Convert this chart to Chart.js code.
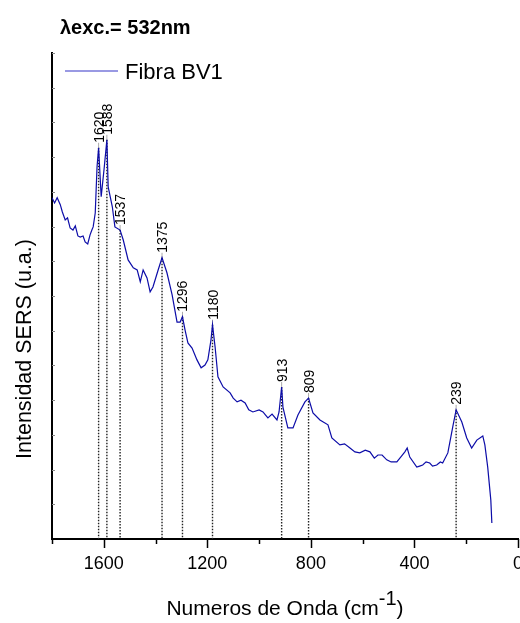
<!DOCTYPE html>
<html>
<head>
<meta charset="utf-8">
<script src="https://cdn.jsdelivr.net/npm/chart.js@4.4.1/dist/chart.umd.min.js"></script>
<style>
  html, body { margin: 0; padding: 0; background: #fff; }
</style>
</head>
<body>
<canvas id="spectrum" width="520" height="623"></canvas>
<script>
// spectrum (Raman shift in cm-1, intensity in arbitrary units)
const wavenumbers = [
  1800, 1790, 1780, 1768, 1760, 1749, 1740, 1730, 1719, 1710,
  1700, 1691, 1680, 1672, 1662, 1653, 1646, 1641, 1633, 1626,
  1620, 1610, 1598, 1588, 1583, 1567, 1557, 1537, 1525, 1506,
  1486, 1471, 1459, 1448, 1433, 1421, 1410, 1390, 1375, 1356,
  1336, 1317, 1305, 1296, 1286, 1275, 1259, 1240, 1224, 1209,
  1198, 1186, 1180, 1170, 1159, 1139, 1112, 1100, 1085, 1070,
  1054, 1040, 1024, 1000, 985, 975, 966, 950, 931, 923,
  913, 908, 889, 869, 850, 823, 809, 792, 765, 734,
  719, 688, 670, 649, 630, 611, 590, 572, 555, 541,
  525, 507, 490, 468, 450, 437, 428, 418, 391, 380,
  368, 355, 341, 330, 314, 300, 291, 271, 252, 239,
  217, 198, 179, 159, 136, 128, 117, 105, 101
];
const intensity = [
  9.83, 9.68, 9.83, 9.63, 9.42, 9.19, 9.25, 8.96, 8.90, 9.02,
  8.73, 8.70, 8.73, 8.56, 8.50, 8.76, 8.90, 8.99, 9.39, 10.72,
  11.27, 9.86, 10.72, 11.50, 10.14, 9.57, 8.99, 8.90, 8.62, 8.04,
  7.81, 7.75, 7.41, 7.75, 7.52, 7.12, 7.26, 7.75, 8.10, 7.67,
  7.03, 6.25, 6.25, 6.40, 6.02, 5.65, 5.50, 5.16, 4.93, 5.01,
  5.16, 5.73, 6.17, 5.53, 4.67, 4.38, 4.21, 4.06, 3.95, 4.00,
  3.92, 3.72, 3.66, 3.72, 3.66, 3.57, 3.49, 3.60, 3.43, 3.66,
  4.38, 3.80, 3.20, 3.20, 3.57, 3.95, 4.06, 3.63, 3.43, 3.29,
  2.91, 2.71, 2.74, 2.62, 2.51, 2.48, 2.56, 2.51, 2.33, 2.42,
  2.42, 2.28, 2.22, 2.22, 2.39, 2.51, 2.62, 2.36, 2.07, 2.10,
  2.13, 2.22, 2.19, 2.10, 2.13, 2.22, 2.19, 2.48, 3.23, 3.72,
  3.37, 2.91, 2.62, 2.85, 2.97, 2.71, 2.07, 1.12, 0.46
];
const peaks = [1620, 1588, 1537, 1375, 1296, 1180, 913, 809, 239];
const xTickLabels = [1600, 1200, 800, 400, 0];

const FONT = '"Liberation Sans", Arial, sans-serif';

const decorations = {
  id: 'decorations',
  beforeDatasetsDraw(chart) {
    const ctx = chart.ctx;
    const xs = chart.scales.x, ys = chart.scales.y;
    const bottom = chart.chartArea.bottom;
    ctx.save();
    peaks.forEach(p => {
      const i = wavenumbers.indexOf(p);
      const px = xs.getPixelForValue(p);
      const py = ys.getPixelForValue(intensity[i]);
      ctx.strokeStyle = '#222';
      ctx.lineWidth = 1.4;
      ctx.setLineDash([1.5, 1.5]);
      ctx.beginPath();
      ctx.moveTo(px, py);
      ctx.lineTo(px, bottom);
      ctx.stroke();
      ctx.setLineDash([]);
      ctx.strokeStyle = '#aaa';
      ctx.lineWidth = 1;
      ctx.beginPath();
      ctx.moveTo(px, py);
      ctx.lineTo(px, py - 5);
      ctx.stroke();
      ctx.save();
      ctx.translate(px + 5, py - 5);
      ctx.rotate(-Math.PI / 2);
      ctx.fillStyle = '#000';
      ctx.font = '14px ' + FONT;
      ctx.textAlign = 'left';
      ctx.textBaseline = 'alphabetic';
      ctx.fillText(String(p), 0, 0);
      ctx.restore();
    });
    ctx.restore();
  },
  afterDraw(chart) {
    const ctx = chart.ctx;
    const xs = chart.scales.x, ys = chart.scales.y;
    const area = chart.chartArea;
    ctx.save();
    // x ticks, pointing out
    ctx.strokeStyle = '#000';
    ctx.lineWidth = 1.5;
    xs.ticks.forEach(t => {
      const px = Math.round(xs.getPixelForValue(t.value)) + 0.5;
      const len = xTickLabels.includes(t.value) ? 9 : 5;
      ctx.beginPath();
      ctx.moveTo(px, area.bottom);
      ctx.lineTo(px, area.bottom + len);
      ctx.stroke();
    });
    // y ticks, pointing in
    ctx.strokeStyle = '#888';
    ctx.lineWidth = 1;
    ys.ticks.forEach(t => {
      if (t.value === 0) return;
      const py = Math.round(ys.getPixelForValue(t.value)) + 0.5;
      ctx.beginPath();
      ctx.moveTo(area.left, py);
      ctx.lineTo(area.left + 3, py);
      ctx.stroke();
    });
    // title
    ctx.fillStyle = '#000';
    ctx.font = 'bold 20px ' + FONT;
    ctx.textAlign = 'left';
    ctx.textBaseline = 'alphabetic';
    ctx.fillText('λexc.= 532nm', 60, 34);
    // legend
    ctx.strokeStyle = '#3434c8';
    ctx.lineWidth = 1.2;
    ctx.beginPath();
    ctx.moveTo(65, 71);
    ctx.lineTo(118, 71);
    ctx.stroke();
    ctx.font = '22px ' + FONT;
    ctx.fillText('Fibra BV1', 125, 79);
    // y title
    ctx.save();
    ctx.translate(31, 349);
    ctx.rotate(-Math.PI / 2);
    ctx.font = '21.5px ' + FONT;
    ctx.textAlign = 'center';
    ctx.fillText('Intensidad SERS (u.a.)', 0, 0);
    ctx.restore();
    // x title with superscript
    const main = 'Numeros de Onda (cm', sup = '-1', close = ')';
    ctx.font = '21px ' + FONT;
    const w1 = ctx.measureText(main).width, w3 = ctx.measureText(close).width;
    ctx.font = '20px ' + FONT;
    const w2 = ctx.measureText(sup).width;
    const x0 = (area.left + area.right) / 2 - (w1 + w2 + w3) / 2;
    const base = 615;
    ctx.textAlign = 'left';
    ctx.font = '21px ' + FONT;
    ctx.fillText(main, x0, base);
    ctx.font = '20px ' + FONT;
    ctx.fillText(sup, x0 + w1, base - 10);
    ctx.font = '21px ' + FONT;
    ctx.fillText(close, x0 + w1 + w2, base);
    ctx.restore();
  }
};

new Chart(document.getElementById('spectrum'), {
  type: 'line',
  data: {
    datasets: [{
      label: 'Fibra BV1',
      data: wavenumbers.map((w, i) => ({ x: w, y: intensity[i] })),
      borderColor: '#0c0ca8',
      borderWidth: 1.2,
      pointRadius: 0,
      tension: 0,
      fill: false
    }]
  },
  options: {
    responsive: false,
    animation: false,
    layout: { padding: { top: 53, right: 2, left: 0, bottom: 0 } },
    plugins: {
      legend: { display: false },
      title: { display: false },
      tooltip: { enabled: false }
    },
    scales: {
      x: {
        type: 'linear',
        reverse: true,
        min: 0,
        max: 1800,
        grid: { display: true, drawOnChartArea: false, drawTicks: false },
        border: { color: '#000', width: 2 },
        ticks: {
          stepSize: 200,
          autoSkip: false,
          maxRotation: 0,
          padding: 14,
          color: '#000',
          font: { family: FONT, size: 18 },
          callback: v => xTickLabels.includes(v) ? String(v) : ''
        },
        afterFit: s => { s.height = 84; s.paddingLeft = 0; s.paddingRight = 0; }
      },
      y: {
        min: 0,
        max: 14,
        ticks: { display: false, stepSize: 1 },
        grid: { display: true, drawOnChartArea: false, drawTicks: false },
        border: { color: '#000', width: 2 },
        afterFit: s => { s.width = 52; }
      }
    }
  },
  plugins: [decorations]
});
</script>
</body>
</html>
